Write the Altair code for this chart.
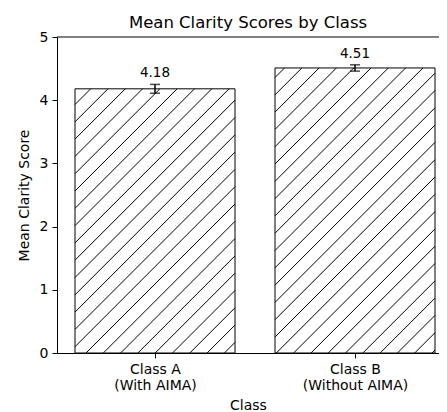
import altair as alt
import numpy as np
import pandas as pd

# ---- data ----
class_lines = [["Class A", "(With AIMA)"], ["Class B", "(Without AIMA)"]]
positions = [0, 1]
means = [4.18, 4.51]
errors = [0.07, 0.05]
y_ticks = [0, 1, 2, 3, 4, 5]

# ---- layout / style ----
W, H = 382, 316
XDOM = [-0.49, -0.49 + 382 / 200]
YDOM = [0, 5]
BAR_W = 0.8
FONT = "DejaVu Sans"
HATCH_SPACING = 17.3   # px, horizontal distance between hatch lines
HATCH_PHASE = 11.7     # px

bars = pd.DataFrame({
    "pos": positions,
    "x0": [p - BAR_W / 2 for p in positions],
    "x1": [p + BAR_W / 2 for p in positions],
    "base": [0.0] * len(positions),
    "mean": means,
    "elo": [m - e for m, e in zip(means, errors)],
    "ehi": [m + e for m, e in zip(means, errors)],
    "label": [f"{m:.2f}" for m in means],
})

# hatch segments ("/" pattern, 45 degrees in pixel space), clipped to each bar
sx = W / (XDOM[1] - XDOM[0])
sy = H / (YDOM[1] - YDOM[0])
segs = []
for _, b in bars.iterrows():
    L = (b.x0 - XDOM[0]) * sx
    R = (b.x1 - XDOM[0]) * sx
    T = b["mean"] * sy
    k0 = int(np.floor((L - T - HATCH_PHASE) / HATCH_SPACING)) - 1
    k1 = int(np.ceil((R - HATCH_PHASE) / HATCH_SPACING)) + 1
    for k in range(k0, k1 + 1):
        c = HATCH_PHASE + k * HATCH_SPACING
        ys = max(0.0, L - c)
        ye = min(T, R - c)
        if ye > ys + 0.5:
            segs.append({
                "hx1": XDOM[0] + (c + ys) / sx, "hy1": ys / sy,
                "hx2": XDOM[0] + (c + ye) / sx, "hy2": ye / sy,
            })
hatch = pd.DataFrame(segs)

xscale = alt.Scale(domain=XDOM, nice=False, zero=False)
yscale = alt.Scale(domain=YDOM, nice=False)

label_expr = " : ".join(
    [f"datum.value == {p} ? {lines!r}" for p, lines in zip(positions, class_lines)]
) + " : ''"

xaxis = alt.Axis(values=positions, labelExpr=label_expr, title="Class",
                 tickSize=5, labelPadding=4, labelLineHeight=16.5,
                 titlePadding=6, labelAngle=0)
yaxis = alt.Axis(values=y_ticks, format="d", title="Mean Clarity Score", tickSize=5,
                 labelPadding=4, titlePadding=8)

base = alt.Chart(bars)

fill_layer = base.mark_rect(fill="white", stroke=None).encode(
    x=alt.X("x0:Q", scale=xscale, axis=xaxis),
    x2="x1:Q",
    y=alt.Y("mean:Q", scale=yscale, axis=yaxis),
    y2="base:Q",
)

hatch_layer = alt.Chart(hatch).mark_rule(color="black", strokeWidth=1).encode(
    x="hx1:Q", x2="hx2:Q", y="hy1:Q", y2="hy2:Q"
)

outline_layer = base.mark_rect(fillOpacity=0, stroke="black", strokeWidth=1).encode(
    x="x0:Q", x2="x1:Q", y="mean:Q", y2="base:Q"
)

err_layer = base.mark_rule(color="black", strokeWidth=1.5).encode(
    x="pos:Q", y="elo:Q", y2="ehi:Q"
)
cap_lo = base.mark_tick(color="black", orient="horizontal", size=10, thickness=1.5).encode(
    x="pos:Q", y="elo:Q"
)
cap_hi = base.mark_tick(color="black", orient="horizontal", size=10, thickness=1.5).encode(
    x="pos:Q", y="ehi:Q"
)
text_layer = base.mark_text(font=FONT, fontSize=13.5, dy=-7, baseline="alphabetic",
                            color="black").encode(
    x="pos:Q", y="ehi:Q", text="label:N"
)
top_spine = alt.Chart(pd.DataFrame({"top": [YDOM[1]]})).mark_rule(
    color="black", strokeWidth=1).encode(y="top:Q")

chart = alt.layer(
    fill_layer, hatch_layer, outline_layer, err_layer, cap_lo, cap_hi, text_layer, top_spine
).properties(
    width=W, height=H,
    background="white",
    title=alt.TitleParams("Mean Clarity Scores by Class", font=FONT, fontSize=16.5,
                          fontWeight="normal", color="black", offset=6, frame="group",
                          dy=7),
    autosize=alt.AutoSizeParams(type="none"),
    padding={"left": 49, "top": 29, "right": 0, "bottom": 59},
).configure_view(stroke=None).configure_axis(
    grid=False, domainColor="black", tickColor="black", labelColor="black",
    titleColor="black", labelFont=FONT, titleFont=FONT, labelFontSize=14,
    titleFontSize=14, titleFontWeight="normal", domainWidth=1, tickWidth=1,
)

chart.save("out.html", embed_options={"renderer": "svg", "actions": False})
